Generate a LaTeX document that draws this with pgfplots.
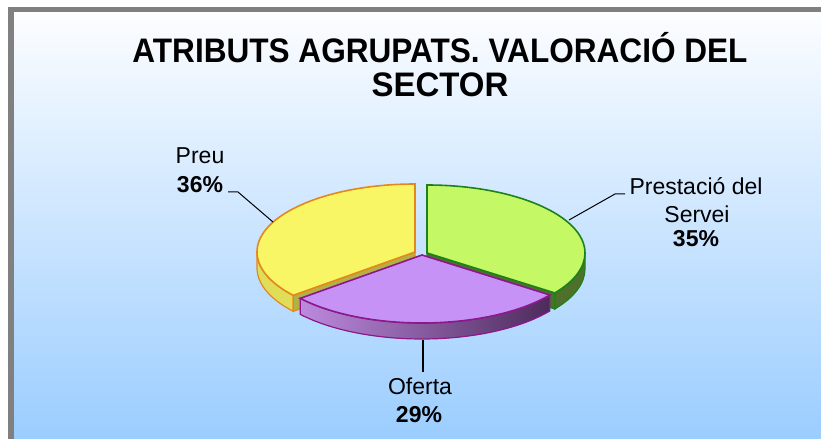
\documentclass[border=0pt]{standalone}
\usepackage{pgfplots}
\pgfplotsset{compat=1.18}
\usepackage{pgfplotstable}
\usepackage{fontspec}
\setmainfont{Liberation Sans}
\definecolor{bgtop}{RGB}{252,253,255}
\definecolor{bgbot}{RGB}{155,205,255}
\definecolor{frame}{RGB}{128,128,128}
\definecolor{ytop}{RGB}{248,246,100}
\definecolor{yside}{RGB}{224,222,88}
\definecolor{yedge}{RGB}{228,136,28}
\definecolor{gtop}{RGB}{196,248,100}
\definecolor{gside}{RGB}{78,112,42}
\definecolor{gedge}{RGB}{30,130,28}
\definecolor{ptop}{RGB}{198,146,246}
\definecolor{psideL}{RGB}{188,138,222}
\definecolor{psideR}{RGB}{78,42,92}
\definecolor{pedge}{RGB}{140,24,140}

\pgfplotstableread{
name value
Prestacio 35
Oferta 29
Preu 36
}\piedata
\pgfplotstablegetelem{0}{value}\of\piedata \let\vA\pgfplotsretval
\pgfplotstablegetelem{1}{value}\of\piedata \let\vB\pgfplotsretval
\pgfplotstablegetelem{2}{value}\of\piedata \let\vC\pgfplotsretval
% angles (start at top, clockwise)
\pgfmathsetmacro\aA{90}
\pgfmathsetmacro\aB{90-3.6*\vA}
\pgfmathsetmacro\aC{\aB-3.6*\vB}
\pgfmathsetmacro\aCy{\aC+360}
% geometry
\def\rx{158}\def\ry{68}\def\dep{16}
% apexes of exploded slices
\def\gx{427}\def\gy{186}
\def\px{422}\def\py{184}
\def\yx{415}\def\yy{187}
% green points
\pgfmathsetmacro\gTx{\gx}\pgfmathsetmacro\gTy{\gy+\ry}
\pgfmathsetmacro\gCx{\gx+\rx*cos(\aB)}\pgfmathsetmacro\gCy{\gy+\ry*sin(\aB)}
\pgfmathsetmacro\gCby{\gCy-\dep}
\pgfmathsetmacro\gRx{\gx+\rx}\pgfmathsetmacro\gRby{\gy-\dep}
\pgfmathsetmacro\gyb{\gy-\dep}
% purple points
\pgfmathsetmacro\pAx{\px+\rx*cos(\aB)}\pgfmathsetmacro\pAy{\py+\ry*sin(\aB)}
\pgfmathsetmacro\pBx{\px+\rx*cos(\aC)}\pgfmathsetmacro\pBy{\py+\ry*sin(\aC)}
\pgfmathsetmacro\pAby{\pAy-\dep}\pgfmathsetmacro\pBby{\pBy-\dep}
% yellow points
\pgfmathsetmacro\yCx{\yx+\rx*cos(\aC)}\pgfmathsetmacro\yCy{\yy+\ry*sin(\aC)}
\pgfmathsetmacro\yCby{\yCy-\dep}
\pgfmathsetmacro\yLx{\yx-\rx}
\pgfmathsetmacro\yyb{\yy-\dep}
\pgfmathsetmacro\yTy{\yy+\ry}

\begin{document}
\begin{tikzpicture}
\begin{axis}[
  width=821bp, height=439bp, scale only axis,
  xmin=0, xmax=821, ymin=0, ymax=439,
  axis lines=none, clip=false,
]
% background and frame
\fill[white] (axis cs:0,0) rectangle (axis cs:821,439);
\fill[frame] (axis cs:8,0) rectangle (axis cs:821,432);
\fill[top color=bgtop, bottom color=bgbot] (axis cs:14,0) rectangle (axis cs:821,426);

% ---- yellow (Preu) side and cut face
\fill[yside, draw=yedge, line width=1.2pt]
  (axis cs:\yLx,\yy) arc[start angle=180, end angle=\aCy, x radius=\rx, y radius=\ry]
  -- (axis cs:\yCx,\yCby) arc[start angle=\aCy, end angle=180, x radius=\rx, y radius=\ry] -- cycle;
\fill[yside!80!black, draw=yedge, line width=1.2pt]
  (axis cs:\yx,\yy) -- (axis cs:\yCx,\yCy) -- (axis cs:\yCx,\yCby) -- (axis cs:\yx,\yyb) -- cycle;
% ---- green (Prestacio) side and cut face
\fill[gside, draw=gedge, line width=1.2pt]
  (axis cs:\gRx,\gy) arc[start angle=0, end angle=\aB, x radius=\rx, y radius=\ry]
  -- (axis cs:\gCx,\gCby) arc[start angle=\aB, end angle=0, x radius=\rx, y radius=\ry] -- cycle;
\fill[gside, draw=gedge, line width=1.2pt]
  (axis cs:\gx,\gy) -- (axis cs:\gCx,\gCy) -- (axis cs:\gCx,\gCby) -- (axis cs:\gx,\gyb) -- cycle;
% ---- tops
\filldraw[fill=ytop, draw=yedge, line width=1.6pt]
  (axis cs:\yx,\yy) -- (axis cs:\yx,\yTy) arc[start angle=90, end angle=\aCy, x radius=\rx, y radius=\ry] -- cycle;
\filldraw[fill=gtop, draw=gedge, line width=1.6pt]
  (axis cs:\gx,\gy) -- (axis cs:\gx,\gTy) arc[start angle=90, end angle=\aB, x radius=\rx, y radius=\ry] -- cycle;
% ---- purple (Oferta)
\fill[left color=psideL, right color=psideR, draw=pedge, line width=1.2pt]
  (axis cs:\pAx,\pAy) arc[start angle=\aB, end angle=\aC, x radius=\rx, y radius=\ry]
  -- (axis cs:\pBx,\pBby) arc[start angle=\aC, end angle=\aB, x radius=\rx, y radius=\ry] -- cycle;
\filldraw[fill=ptop, draw=pedge, line width=1.6pt]
  (axis cs:\px,\py) -- (axis cs:\pAx,\pAy) arc[start angle=\aB, end angle=\aC, x radius=\rx, y radius=\ry] -- cycle;

% ---- leader lines
\draw[black, line width=1pt] (axis cs:228,247) -- (axis cs:238,247) -- (axis cs:273,217);
\draw[black, line width=1pt] (axis cs:569,219) -- (axis cs:615,245) -- (axis cs:625,245);
\draw[black, line width=1.3pt] (axis cs:423,99) -- (axis cs:423,67);

% ---- labels
\begin{scope}[every node/.style={anchor=base, inner sep=0pt, font=\fontsize{23bp}{27bp}\selectfont}]
\node at (axis cs:200,275) {Preu};
\node at (axis cs:200,246) {\bfseries 36\%};
\node at (axis cs:696,244) {Prestació del};
\node at (axis cs:697,216) {Servei};
\node at (axis cs:696,192) {\bfseries 35\%};
\node at (axis cs:420,44) {Oferta};
\node at (axis cs:419,17) {\bfseries 29\%};
\end{scope}
% ---- title
\begin{scope}[every node/.style={anchor=base, inner sep=0pt, font=\fontsize{34bp}{38bp}\selectfont\bfseries}]
\node at (axis cs:440,376) {\resizebox{615bp}{\height}{ATRIBUTS AGRUPATS. VALORACIÓ DEL}};
\node at (axis cs:440,342) {\scalebox{0.97}[1]{SECTOR}};
\end{scope}
\end{axis}
\end{tikzpicture}
\end{document}
